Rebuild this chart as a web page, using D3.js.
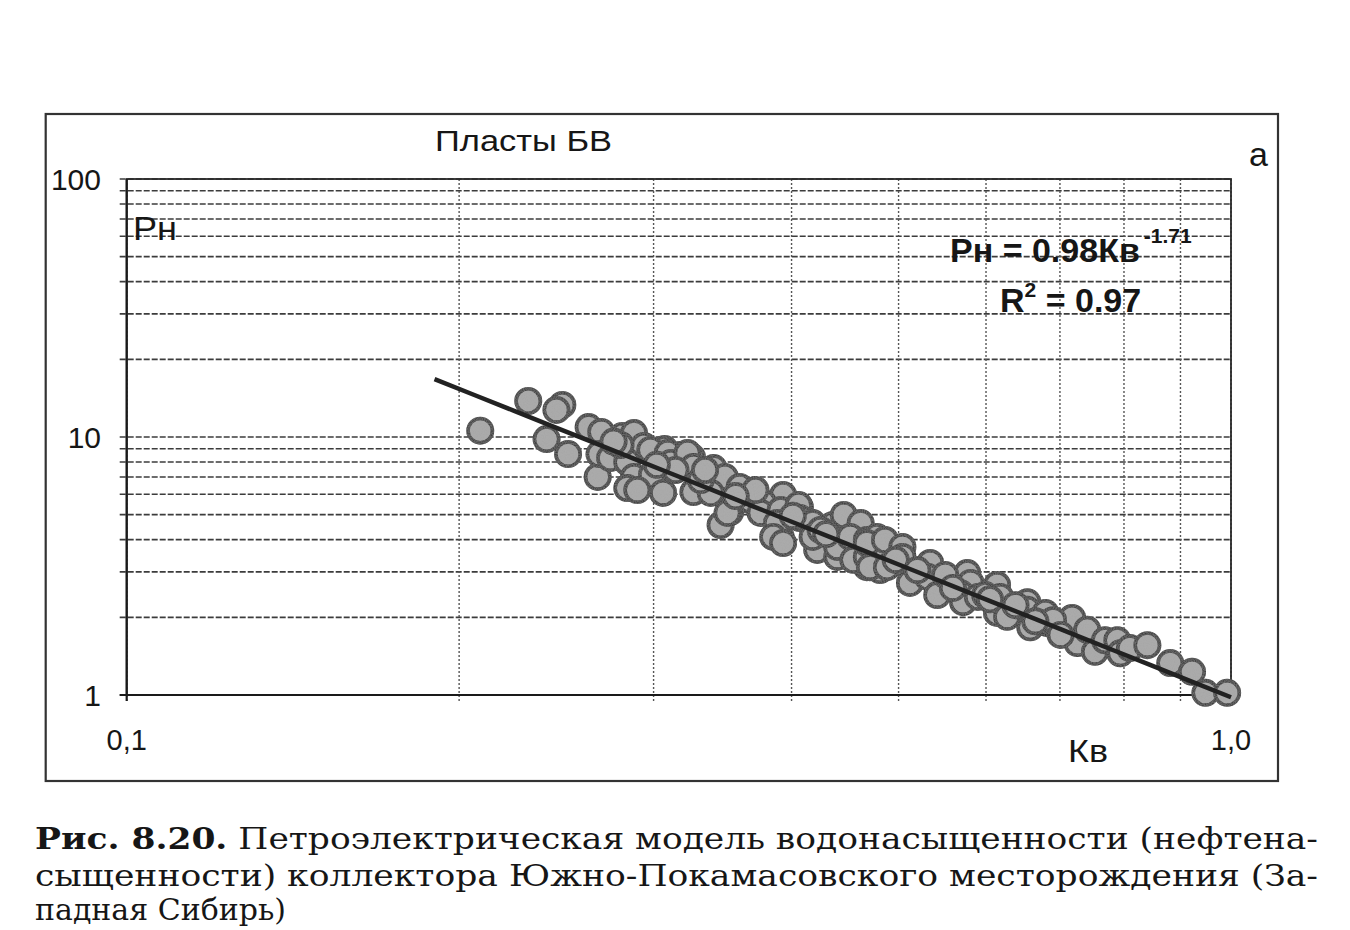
<!DOCTYPE html>
<html><head><meta charset="utf-8">
<script src="https://cdn.jsdelivr.net/npm/d3@7"></script>
<style>body{margin:0;background:#fff}</style>
</head><body>
<svg id="c" width="1350" height="930"></svg>
<script>
// ---- data (Кв, Рн) ----
const kvValues = [0.209,0.231,0.248,0.245,0.240,0.251,0.262,0.269,0.281,0.288,0.294,0.267,0.268,0.274,0.284,0.288,0.299,0.306,0.309,0.307,
0.298,0.284,0.290,0.317,0.325,0.326,0.340,0.348,0.338,0.345,0.352,0.359,0.367,0.380,0.393,0.391,0.396,0.407,0.416,0.422,
0.436,0.446,0.440,0.455,0.465,0.468,0.462,0.309,0.311,0.322,0.326,0.350,0.377,0.375,0.391,0.406,0.388,0.385,0.393,0.407,
0.418,0.418,0.440,0.452,0.455,0.468,0.468,0.478,0.481,0.488,0.468,0.471,0.486,0.488,0.504,0.504,0.512,0.534,0.531,0.542,
0.577,0.581,0.569,0.572,0.590,0.614,0.618,0.614,0.627,0.654,0.654,0.658,0.679,0.682,0.696,0.718,0.726,0.741,0.690,0.753,
0.769,0.789,0.794,0.810,0.840,0.881,0.922,0.948,0.992,0.280,0.314,0.331,0.371,0.334,0.425,0.497,0.551,0.599,0.638,0.701,
0.276,0.302,0.356,0.401,0.430,0.520,0.560,0.605,0.665];
const rnValues = [10.58,13.79,13.31,12.73,9.82,8.59,10.93,10.46,10.09,10.36,9.23,7.00,8.59,8.29,8.00,7.00,7.13,6.07,8.00,8.98,
8.91,6.34,6.23,8.51,8.36,6.12,7.58,7.00,6.07,4.56,5.12,6.40,5.70,5.35,5.96,4.10,5.08,5.35,4.64,3.65,
4.56,4.99,3.43,3.75,4.10,3.13,4.64,8.67,7.93,8.67,7.65,5.08,5.55,5.08,5.21,5.45,4.64,4.10,3.88,4.85,
4.64,4.10,3.75,4.10,3.34,3.99,3.43,4.10,3.05,3.65,3.88,3.13,3.99,3.13,3.75,3.43,2.72,3.25,2.87,2.44,
2.97,2.72,2.48,2.29,2.40,2.67,2.40,2.08,2.01,2.29,2.14,1.83,2.08,1.90,1.82,1.99,1.59,1.79,1.95,1.47,
1.63,1.63,1.45,1.52,1.56,1.33,1.23,1.02,1.02,9.31,7.45,6.81,6.23,7.45,4.36,3.34,2.92,2.44,2.23,1.71,
9.60,7.80,5.90,4.95,4.20,3.05,2.60,2.35,1.93];
const trendCoef = 0.98, trendExp = -1.71, trendRange = [0.19, 1.0];
const yTickValues = [1, 10, 100];
const yTickLabels = ["1", "10", "100"];
const xTickValues = [0.1, 1.0];
const xTickLabels = ["0,1", "1,0"];
const titleText = "Пласты БВ";
const panelLetter = "а";
const yAxisName = "Рн";
const xAxisName = "Кв";
const captionLines = [
  ["Рис. 8.20.", " Петроэлектрическая модель водонасыщенности (нефтена-"],
  ["", "сыщенности) коллектора Южно-Покамасовского месторождения (За-"],
  ["", "падная Сибирь)"]
];

const svg = d3.select("#c");
const ink = "#161616";
const L = 126.7, R = 1231, T = 179, B = 695;
const x = d3.scaleLog().domain([0.1, 1]).range([L, R]);
const y = d3.scaleLog().domain([1, 100]).range([B, T]);

// speckle texture for markers
const defs = svg.append("defs");
const flt = defs.append("filter").attr("id", "grain").attr("x", "-10%").attr("y", "-10%").attr("width", "120%").attr("height", "120%");
flt.append("feTurbulence").attr("type", "fractalNoise").attr("baseFrequency", 0.9).attr("numOctaves", 1).attr("seed", 3).attr("result", "n");
flt.append("feColorMatrix").attr("in", "n").attr("type", "matrix")
  .attr("values", "0 0 0 0 0.35  0 0 0 0 0.35  0 0 0 0 0.35  0 0 0 0.55 0").attr("result", "m");
flt.append("feComposite").attr("in", "m").attr("in2", "SourceGraphic").attr("operator", "in").attr("result", "s");
flt.append("feMerge").call(m => { m.append("feMergeNode").attr("in", "SourceGraphic"); m.append("feMergeNode").attr("in", "s"); });

// outer frame
svg.append("rect").attr("x", 45.7).attr("y", 114).attr("width", 1278 - 45.7).attr("height", 781 - 114)
  .attr("fill", "none").attr("stroke", "#333").attr("stroke-width", 2.2);

// horizontal grid
svg.append("g").selectAll("line").data(y.ticks()).join("line")
  .attr("x1", L - 7).attr("x2", R).attr("y1", d => y(d)).attr("y2", d => y(d))
  .attr("stroke", "#3c3c3c").attr("stroke-width", 1.6).attr("stroke-dasharray", "6,2");
// vertical grid
svg.append("g").selectAll("line").data(x.ticks()).join("line")
  .attr("x1", d => x(d)).attr("x2", d => x(d)).attr("y1", T).attr("y2", B + 6)
  .attr("stroke", "#555").attr("stroke-width", 1.4).attr("stroke-dasharray", "2,2");

// plot border
svg.append("rect").attr("x", L).attr("y", T).attr("width", R - L).attr("height", B - T)
  .attr("fill", "none").attr("stroke", "#2a2a2a").attr("stroke-width", 1.8);
svg.append("line").attr("x1", L).attr("x2", L).attr("y1", T).attr("y2", B + 6)
  .attr("stroke", "#1a1a1a").attr("stroke-width", 2.2);
svg.append("line").attr("x1", L - 7).attr("x2", R).attr("y1", B).attr("y2", B)
  .attr("stroke", "#1a1a1a").attr("stroke-width", 2.2);

// points
const pts = kvValues.map((k, i) => ({k, r: rnValues[i]}));
svg.append("g").selectAll("circle").data(pts).join("circle")
  .attr("cx", d => x(d.k)).attr("cy", d => y(d.r)).attr("r", 12.2)
  .attr("fill", "#adadad").attr("stroke", "#161616").attr("stroke-width", 3.6)
  .attr("filter", "url(#grain)");

// trend line
const tk = d3.range(0, 21).map(i => trendRange[0] * Math.pow(trendRange[1] / trendRange[0], i / 20));
svg.append("path").datum(tk)
  .attr("d", d3.line().x(k => x(k)).y(k => y(trendCoef * Math.pow(k, trendExp))))
  .attr("fill", "none").attr("stroke", "#222").attr("stroke-width", 4.5);

const sans = "'Liberation Sans', Arial, sans-serif";
// y tick labels
svg.append("g").selectAll("text").data(yTickValues).join("text")
  .attr("x", 101).attr("y", d => y(d) + 10.5).attr("text-anchor", "end")
  .attr("font-family", sans).attr("font-size", 30).attr("fill", ink)
  .text((d, i) => yTickLabels[i]);
// x tick labels
svg.append("g").selectAll("text").data(xTickValues).join("text")
  .attr("x", d => x(d)).attr("y", 750).attr("text-anchor", "middle")
  .attr("font-family", sans).attr("font-size", 29).attr("fill", ink)
  .text((d, i) => xTickLabels[i]);

svg.append("text").attr("x", 435).attr("y", 151).attr("font-family", sans).attr("font-size", 29)
  .attr("fill", ink).attr("textLength", 177).attr("lengthAdjust", "spacingAndGlyphs").text(titleText);
svg.append("text").attr("x", 1249).attr("y", 166).attr("font-family", sans).attr("font-size", 34)
  .attr("fill", ink).text(panelLetter);
svg.append("text").attr("x", 133).attr("y", 240).attr("font-family", sans).attr("font-size", 34)
  .attr("fill", ink).attr("textLength", 44).attr("lengthAdjust", "spacingAndGlyphs").text(yAxisName);
svg.append("text").attr("x", 1068).attr("y", 762).attr("font-family", sans).attr("font-size", 32)
  .attr("fill", ink).attr("textLength", 40).attr("lengthAdjust", "spacingAndGlyphs").text(xAxisName);

// equation
const eq = svg.append("text").attr("x", 950).attr("y", 262).attr("font-family", sans)
  .attr("font-size", 34).attr("font-weight", "bold").attr("fill", ink);
eq.append("tspan").text(`Рн = ${trendCoef.toFixed(2)}Кв`);
eq.append("tspan").attr("dy", -19).attr("font-size", 21).attr("dx", 4).text(trendExp.toFixed(2));
const r2 = svg.append("text").attr("x", 1000).attr("y", 312).attr("font-family", sans)
  .attr("font-size", 34).attr("font-weight", "bold").attr("fill", ink);
r2.append("tspan").text("R");
r2.append("tspan").attr("dy", -15).attr("font-size", 21).text("2");
r2.append("tspan").attr("dy", 15).text(" = 0.97");

// caption
const serif = "'DejaVu Serif', 'Liberation Serif', serif";
const baselines = [849, 886, 920];
const capTexts = captionLines.map((ln, i) => {
  const t = svg.append("text").attr("x", 35).attr("y", baselines[i]).attr("font-family", serif)
    .attr("font-size", 26).attr("fill", ink);
  if (ln[0]) t.append("tspan").attr("font-weight", "bold").text(ln[0]);
  t.append("tspan").text(ln[1]);
  return t;
});
// choose a font size so the first (justified) line spans the same width as the original
const w0 = capTexts[0].node().getComputedTextLength();
const fs = Math.min(30, 26 * 1283 / w0);
capTexts.forEach((t, i) => {
  t.attr("font-size", fs);
  if (i < 2) t.attr("textLength", 1283).attr("lengthAdjust", "spacingAndGlyphs");
});
</script>
</body></html>
